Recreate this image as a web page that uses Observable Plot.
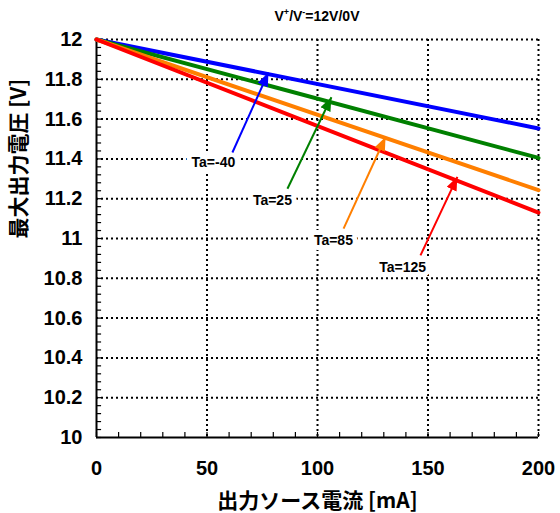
<!DOCTYPE html>
<html><head><meta charset="utf-8">
<script src="https://cdn.jsdelivr.net/npm/d3@7"></script>
<script src="https://cdn.jsdelivr.net/npm/@observablehq/plot@0.6"></script>
<style>
body{margin:0;background:#fff;}
#sub{position:relative;height:30px;width:560px;font:bold 14px "Liberation Sans",Arial,sans-serif;}
#sub span{position:absolute;left:317px;top:7px;transform:translateX(-50%);white-space:nowrap;}
</style></head>
<body>
<div id="sub"><span>V<sup style="font-size:9px">+</sup>/V<sup style="font-size:9px">-</sup>=12V/0V</span></div>
<div id="chart"></div>
<script>
const current = [0, 200];
const vTaM40 = [12, 11.553];
const vTa25 = [12, 11.405];
const vTa85 = [12, 11.243];
const vTa125 = [12, 11.13];
const seriesNames = ["Ta=-40", "Ta=25", "Ta=85", "Ta=125"];
const seriesColors = ["#0000ff", "#008000", "#ff7f00", "#ff0000"];
const xTicks = [0, 50, 100, 150, 200];
const yTicks = [10, 10.2, 10.4, 10.6, 10.8, 11, 11.2, 11.4, 11.6, 11.8, 12];
const yTickLabels = ["10", "10.2", "10.4", "10.6", "10.8", "11", "11.2", "11.4", "11.6", "11.8", "12"];
const xMinor = d3.range(0, 201, 10);
const yMinor = d3.range(0, 51).map(i => +(10 + i * 0.04).toFixed(2));
// annotation positions (data units)
const labelX = [52.9, 79.6, 107.2, 138.5];
const labelY = [11.382, 11.191, 10.99, 10.854];
const arrowX1 = [61.5, 86.4, 111.8, 146.6];
const arrowY1 = [11.432, 11.25, 11.05, 10.915];
const arrowX2 = [77.8, 106.3, 130.8, 163.3];
const arrowY2 = [11.834, 11.71, 11.51, 11.31];

const allV = [vTaM40, vTa25, vTa85, vTa125];
const lineData = allV.flatMap((v, s) => current.map((c, i) => ({x: c, y: v[i], s: seriesNames[s]})));
const annos = seriesNames.map((n, i) => ({n, lx: labelX[i], ly: labelY[i], x1: arrowX1[i], y1: arrowY1[i], x2: arrowX2[i], y2: arrowY2[i], c: seriesColors[i]}));

function triHead(color) {
  const m = d3.create("svg:marker")
    .attr("viewBox", "-10 -4 10 8")
    .attr("markerWidth", 14).attr("markerHeight", 11)
    .attr("markerUnits", "userSpaceOnUse")
    .attr("orient", "auto")
    .attr("fill", color).attr("stroke", "none");
  m.append("path").attr("d", "M0,0L-10,-4L-10,4Z");
  return m.node();
}

const font = "'Liberation Sans', Arial, sans-serif";
const plot = Plot.plot({
  width: 560, height: 483,
  marginTop: 9, marginBottom: 76, marginLeft: 96, marginRight: 22,
  style: {fontFamily: font, fontSize: "20px", fontWeight: "bold", background: "white", color: "black", overflow: "visible"},
  x: {domain: [0, 200]},
  y: {domain: [10, 12]},
  color: {domain: seriesNames, range: seriesColors},
  marks: [
    Plot.ruleX(xTicks.filter(d => d > 0), {stroke: "black", strokeWidth: 2, strokeDasharray: "2,3"}),
    Plot.ruleY(yTicks.filter(d => d > 10), {stroke: "black", strokeWidth: 2, strokeDasharray: "2,3"}),
    Plot.ruleX(xMinor, {y1: 10, y2: 10.025, stroke: "black", strokeWidth: 1.2}),
    Plot.ruleY(yMinor, {x1: 0, x2: 2.3, stroke: "black", strokeWidth: 1.2}),
    Plot.ruleX([0], {stroke: "black", strokeWidth: 2}),
    Plot.ruleY([10], {stroke: "black", strokeWidth: 2}),
    Plot.axisX({ticks: xTicks, tickSize: 0, tickPadding: 23, label: null}),
    Plot.axisY({ticks: yTicks, tickSize: 0, tickPadding: 14, tickFormat: (d, i) => yTickLabels[yTicks.indexOf(d)], label: null}),
    Plot.text(["出力ソース電流 [mA]"], {frameAnchor: "bottom", dy: 70, fontSize: 21, fontWeight: "bold", fontFamily: "'Noto Sans CJK JP', sans-serif"}),
    Plot.text(["最大出力電圧 [V]"], {frameAnchor: "left", dx: -77, rotate: -90, fontSize: 21, fontWeight: "bold", fontFamily: "'Noto Sans CJK JP', sans-serif"}),
    Plot.line(lineData, {x: "x", y: "y", z: "s", stroke: "s", strokeWidth: 4}),
    Plot.text(annos, {x: "lx", y: "ly", text: "n", fontSize: 14, fontWeight: "bold", stroke: "white", strokeWidth: 10, fill: "white"}),
    Plot.text(annos, {x: "lx", y: "ly", text: "n", fontSize: 14, fontWeight: "bold", fill: "black"}),
    ...annos.map(a => Plot.link([a], {x1: "x1", y1: "y1", x2: "x2", y2: "y2", stroke: a.c, strokeWidth: 2, markerEnd: triHead}))
  ]
});
document.getElementById("chart").appendChild(plot);
</script>
</body></html>
